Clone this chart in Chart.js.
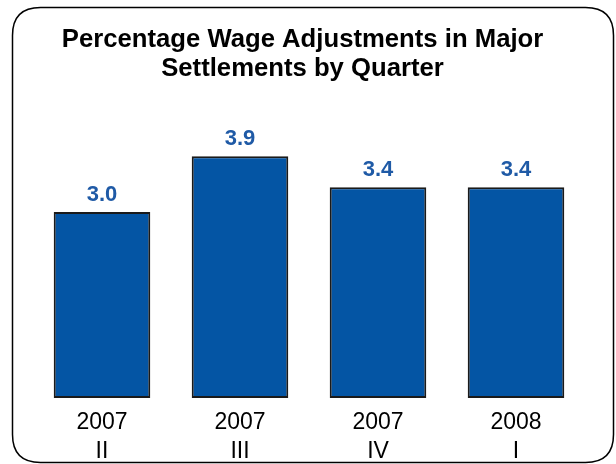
<!DOCTYPE html>
<html>
<head>
<meta charset="utf-8">
<script src="https://cdn.jsdelivr.net/npm/chart.js@4.4.1/dist/chart.umd.min.js"></script>
<style>
  html, body { margin: 0; padding: 0; background: #ffffff; }
  #wrap { width: 616px; height: 464px; position: relative; }
</style>
</head>
<body>
<div id="wrap"><canvas id="c" width="616" height="464"></canvas></div>
<script>
// Quarter labels (year, quarter) and wage adjustment values in percent
const years = ['2007', '2007', '2007', '2008'];
const quarters = ['II', 'III', 'IV', 'I'];
const wageAdjustments = [3.0, 3.9, 3.4, 3.4];
const titleLines = ['Percentage Wage Adjustments in Major', 'Settlements by Quarter'];

const categoryLabels = years.map((y, i) => [y, quarters[i]]);

const FONT = "'Liberation Sans', Arial, Helvetica, sans-serif";

// Rounded frame around the whole figure
const framePlugin = {
  id: 'frame',
  beforeDraw(chart) {
    const ctx = chart.ctx;
    const x = 12.5, y = 7.5, w = 601, h = 455, r = 28;
    ctx.save();
    ctx.fillStyle = '#ffffff';
    ctx.fillRect(0, 0, chart.width, chart.height);
    ctx.beginPath();
    ctx.moveTo(x + r, y);
    ctx.lineTo(x + w - r, y);
    ctx.quadraticCurveTo(x + w, y, x + w, y + r);
    ctx.lineTo(x + w, y + h - r);
    ctx.quadraticCurveTo(x + w, y + h, x + w - r, y + h);
    ctx.lineTo(x + r, y + h);
    ctx.quadraticCurveTo(x, y + h, x, y + h - r);
    ctx.lineTo(x, y + r);
    ctx.quadraticCurveTo(x, y, x + r, y);
    ctx.closePath();
    ctx.lineWidth = 1.5;
    ctx.strokeStyle = '#000000';
    ctx.stroke();
    ctx.restore();
  }
};

// Value labels above each bar
const valueLabelPlugin = {
  id: 'valueLabels',
  afterDatasetsDraw(chart) {
    const ctx = chart.ctx;
    const meta = chart.getDatasetMeta(0);
    const data = chart.data.datasets[0].data;
    ctx.save();
    ctx.font = 'bold 22px ' + FONT;
    ctx.fillStyle = '#1F5AA6';
    ctx.textAlign = 'center';
    ctx.textBaseline = 'middle';
    meta.data.forEach((bar, i) => {
      ctx.fillText(data[i].toFixed(1), bar.x, bar.y - 17);
    });
    ctx.restore();
  }
};

new Chart(document.getElementById('c'), {
  type: 'bar',
  data: {
    labels: categoryLabels,
    datasets: [{
      data: wageAdjustments,
      backgroundColor: '#0455A4',
      borderColor: '#1a1a1a',
      borderWidth: 2,
      borderSkipped: false,
      barPercentage: 0.7,
      categoryPercentage: 1.0
    }]
  },
  options: {
    responsive: false,
    animation: false,
    layout: { padding: { left: 20, right: 31, top: 0, bottom: 0 } },
    plugins: {
      legend: { display: false },
      tooltip: { enabled: false },
      title: {
        display: true,
        text: titleLines,
        color: '#000000',
        font: { family: FONT, size: 25.7, weight: 'bold', lineHeight: 1.128 },
        padding: { top: 25, bottom: 5 }
      }
    },
    scales: {
      x: {
        grid: { display: false, drawTicks: false },
        border: { display: false },
        ticks: {
          color: '#000000',
          font: { family: FONT, size: 23, lineHeight: 1.26 },
          padding: 10,
          maxRotation: 0
        },
        afterFit(axis) { axis.height = 66; }
      },
      y: {
        display: true,
        min: 0,
        max: 5,
        grid: { display: false, drawTicks: false },
        border: { display: false },
        ticks: { display: false },
        afterFit(axis) { axis.width = 13; }
      }
    }
  },
  plugins: [framePlugin, valueLabelPlugin]
});
</script>
</body>
</html>
